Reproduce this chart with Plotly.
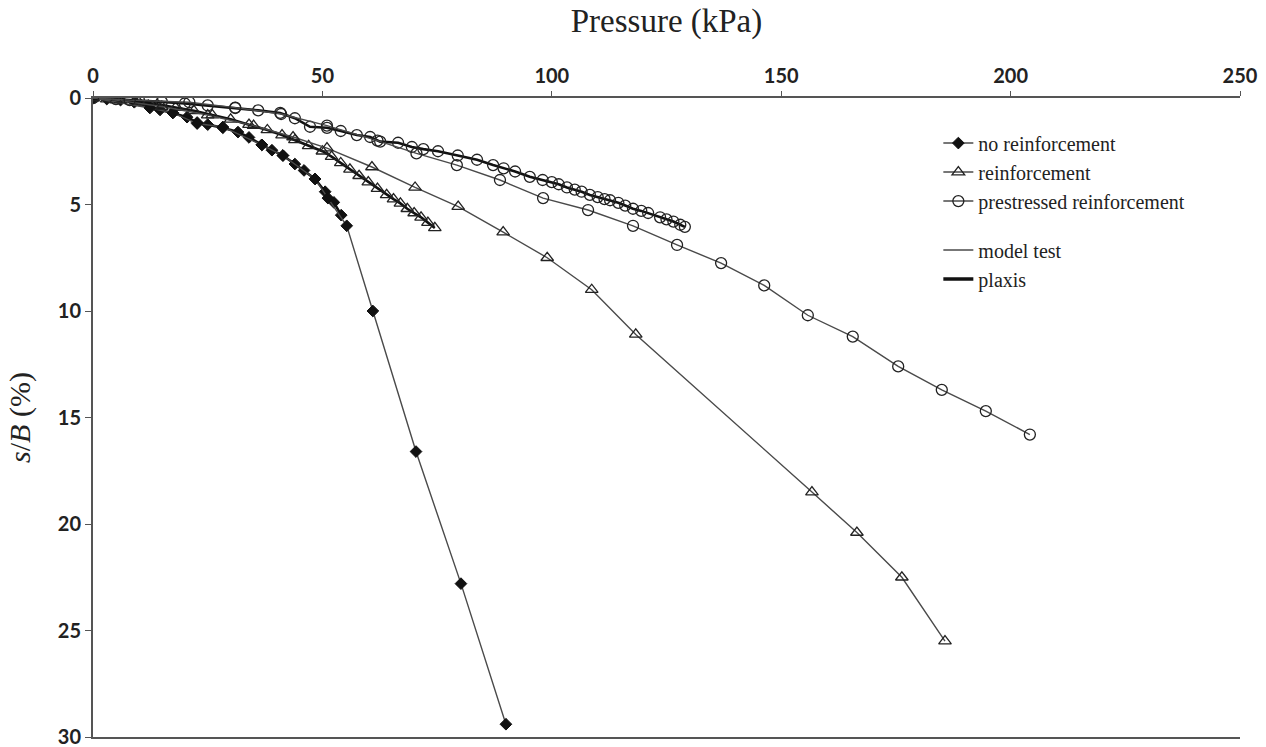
import plotly.graph_objects as go

# ---- data ----
# model test (thin lines)
nr_test_p = [0, 12.4, 17.4, 22.7, 28.3, 36.8, 41.4, 48.4, 51.2, 55.3, 61.0, 70.4, 80.2, 90.0]
nr_test_s = [0, 0.47, 0.70, 1.20, 1.36, 2.20, 2.70, 3.80, 4.70, 6.00, 10.0, 16.6, 22.8, 29.4]

r_test_p = [0, 5, 15, 25, 35, 43.6, 51.0, 60.8, 70.2, 79.6, 89.4, 99.0, 108.7, 118.3, 156.7, 166.5, 176.3, 185.7]
r_test_s = [0, 0.10, 0.40, 0.80, 1.30, 1.83, 2.35, 3.24, 4.20, 5.10, 6.30, 7.50, 9.00, 11.1, 18.5, 20.4, 22.5, 25.5]

pr_test_p = [0, 8, 21, 31, 41, 51, 62, 70.5, 79.3, 88.7, 98.1, 107.9, 117.7, 127.3, 136.9, 146.3, 155.8, 165.6, 175.5, 185.0, 194.6, 204.2]
pr_test_s = [0, 0.10, 0.20, 0.45, 0.75, 1.30, 2.00, 2.60, 3.15, 3.85, 4.70, 5.26, 6.00, 6.90, 7.75, 8.80, 10.2, 11.2, 12.6, 13.7, 14.7, 15.8]

# plaxis (thick lines)
nr_fem_p = [0, 3, 6, 9, 12, 14.6, 17.4, 20.5, 22.7, 25, 28.3, 31.6, 34, 36.8, 39, 41.4, 44, 46, 48.4, 50.6, 52.5, 54.1]
nr_fem_s = [0, 0.05, 0.10, 0.20, 0.35, 0.56, 0.70, 0.90, 1.15, 1.25, 1.40, 1.60, 1.85, 2.20, 2.45, 2.70, 3.10, 3.40, 3.80, 4.40, 4.90, 5.50]

r_fem_p = [0, 3, 6, 10, 14, 18, 22, 26, 30, 34, 38, 41.2, 44, 47, 50, 52, 54, 56, 58, 60, 62, 64, 65.5, 67,
           68.5, 70, 71.5, 73, 74.5]
r_fem_s = [0, 0.05, 0.10, 0.20, 0.30, 0.45, 0.60, 0.80, 1.00, 1.25, 1.50, 1.74, 1.97, 2.25, 2.50, 2.75, 3.05, 3.35, 3.65, 3.95, 4.25, 4.55, 4.75, 4.95,
           5.20, 5.40, 5.60, 5.85, 6.10]

pr_fem_p = [0, 5, 10, 15, 20, 25, 31, 36, 40.8, 44, 47.3, 51, 54, 57.5, 60.4, 62.6, 66.5, 69.5, 72, 75.2, 79.5, 83.7, 87.2,
            89.5, 92, 95.2, 98, 100, 101.5, 103.3, 105, 106.5, 108.3, 110, 111.5, 112.7, 114.5, 116, 117.7, 119.5,
            121, 123.6, 125, 126.5, 128, 129]
pr_fem_s = [0, 0.05, 0.10, 0.18, 0.26, 0.35, 0.47, 0.58, 0.70, 0.95, 1.35, 1.40, 1.55, 1.74, 1.83, 2.05, 2.10, 2.30, 2.40, 2.50, 2.70, 2.90, 3.15,
            3.30, 3.45, 3.70, 3.85, 3.95, 4.05, 4.20, 4.30, 4.40, 4.55, 4.65, 4.75, 4.80, 4.92, 5.05, 5.20, 5.30,
            5.40, 5.60, 5.70, 5.80, 5.95, 6.05]

series_names = ["no reinforcement", "reinforcement", "prestressed reinforcement"]
x_ticks = [0, 50, 100, 150, 200, 250]
y_ticks = [0, 5, 10, 15, 20, 25, 30]

SERIF = "Liberation Serif"
THIN = "#4a4a4a"
THICK = "#111111"

fig = go.Figure()

symbols = [
    dict(symbol="diamond", size=9, color="#111111", line=dict(color="#111111", width=1)),
    dict(symbol="triangle-up-open", size=11, color="#222222", line=dict(width=1.3)),
    dict(symbol="circle-open", size=11, color="#222222", line=dict(width=1.3)),
]

fem_sets = [(nr_fem_p, nr_fem_s), (r_fem_p, r_fem_s), (pr_fem_p, pr_fem_s)]
test_sets = [(nr_test_p, nr_test_s), (r_test_p, r_test_s), (pr_test_p, pr_test_s)]

# plaxis curves (thick)
for (p, s), mk in zip(fem_sets, symbols):
    fig.add_trace(go.Scatter(x=p, y=s, mode="lines+markers",
                             line=dict(color=THICK, width=2.6),
                             marker=mk, showlegend=False, hoverinfo="x+y"))

# model test curves (thin) - carry the series legend entries
for (p, s), mk, name in zip(test_sets, symbols, series_names):
    fig.add_trace(go.Scatter(x=p, y=s, mode="lines+markers", name=name,
                             line=dict(color=THIN, width=1.4),
                             marker=mk, legendgroup="series"))

# line-style legend entries
fig.add_trace(go.Scatter(x=[None], y=[None], mode="lines", name="model test",
                         line=dict(color=THIN, width=1.4), legendgroup="style"))
fig.add_trace(go.Scatter(x=[None], y=[None], mode="lines", name="plaxis",
                         line=dict(color=THICK, width=3.5), legendgroup="style"))

fig.update_layout(
    width=1266, height=747,
    margin=dict(l=93, r=26, t=98, b=10),
    paper_bgcolor="white", plot_bgcolor="white",
    showlegend=True,
    legend=dict(x=0.737, y=0.96, xanchor="left", yanchor="top",
                font=dict(family=SERIF, size=20, color="#222"),
                traceorder="grouped", tracegroupgap=20,
                bgcolor="rgba(255,255,255,0)", itemwidth=30),
    xaxis=dict(range=[0, 250], side="top", tickvals=x_ticks,
               showgrid=False, zeroline=False, automargin=False,
               showline=True, linecolor="#555", linewidth=2, mirror=True,
               ticks="outside", ticklen=5, tickcolor="#555",
               ticklabeloverflow="allow",
               tickfont=dict(family="Lato", size=20, color="#222", weight="bold"),
               title=dict(text="Pressure (kPa)", standoff=20,
                          font=dict(family=SERIF, size=33, color="#222"))),
    yaxis=dict(range=[30, 0], tickvals=y_ticks,
               showgrid=False, zeroline=False, automargin=False,
               showline=True, linecolor="#555", linewidth=2,
               ticks="outside", ticklen=6, tickcolor="#555",
               ticklabeloverflow="allow",
               tickfont=dict(family="Lato", size=20, color="#222", weight="bold"),
               title=dict(text="<i>s</i>/<i>B</i> (%)", standoff=18,
                          font=dict(family=SERIF, size=30, color="#222"))),
)

fig.write_html("out.html")
